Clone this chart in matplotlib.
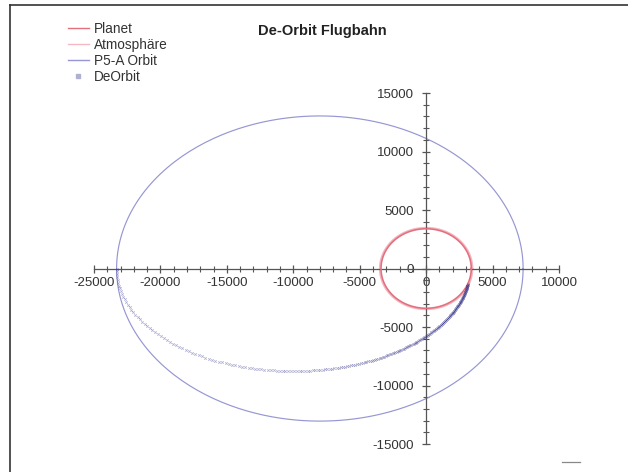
import numpy as np
import matplotlib
matplotlib.use("Agg")
import matplotlib.pyplot as plt
from matplotlib.lines import Line2D
from matplotlib.ticker import MultipleLocator

plt.rcParams['font.family'] = ['Liberation Sans', 'DejaVu Sans']

# Body and orbit sizes (km-ish units of the chart)
planet_radius = 3400
atmosphere_radius = 3500
p5a_periapsis = 7300
p5a_apoapsis = 23300
deorbit_periapsis = 3300
deorbit_apoapsis = 23300
# De-orbit burn starts at apoapsis (180 deg) and ends at atmosphere entry
deorbit_start_deg = 180
deorbit_end_deg = 336
deorbit_step_deg = 0.6

x_ticks = [-25000, -20000, -15000, -10000, -5000, 0, 5000, 10000]
y_ticks = [-15000, -10000, -5000, 0, 5000, 10000, 15000]


def orbit_xy(rp, ra, theta):
    """Keplerian orbit with focus at origin, periapsis on +x."""
    e = (ra - rp) / (ra + rp)
    p = rp * (1 + e)
    r = p / (1 + e * np.cos(theta))
    return r * np.cos(theta), r * np.sin(theta)


fig = plt.figure(figsize=(6.28, 4.72), dpi=100)
ax = fig.add_axes([0.1497, 0.0593, 0.7404, 0.7436])

t = np.linspace(0, 2 * np.pi, 400)
ax.plot(planet_radius * np.cos(t), planet_radius * np.sin(t), color='#e3707e', lw=1.2, zorder=3)
ax.plot(atmosphere_radius * np.cos(t), atmosphere_radius * np.sin(t), color='#f4b8c2', lw=1.1, zorder=2)

ox, oy = orbit_xy(p5a_periapsis, p5a_apoapsis, t)
ax.plot(ox, oy, color='#9696d4', lw=0.85, zorder=2)

th = np.deg2rad(np.arange(deorbit_start_deg, deorbit_end_deg + deorbit_step_deg, deorbit_step_deg))
dx, dy = orbit_xy(deorbit_periapsis, deorbit_apoapsis, th)
ax.plot(dx, dy, ls='none', marker='x', ms=1.8, mew=0.55, color='#34348a', alpha=0.38, zorder=4)

ax.set_xlim(-25000, 10000)
ax.set_ylim(-15000, 15000)
for side in ('top', 'right'):
    ax.spines[side].set_visible(False)
for side in ('left', 'bottom'):
    ax.spines[side].set_position(('data', 0))
    ax.spines[side].set_color('#555555')
    ax.spines[side].set_linewidth(0.9)

ax.set_xticks(x_ticks)
ax.set_yticks(y_ticks)
ax.set_xticklabels([str(v) for v in x_ticks])
ax.set_yticklabels([str(v) for v in y_ticks])
ax.xaxis.set_minor_locator(MultipleLocator(1000))
ax.yaxis.set_minor_locator(MultipleLocator(1000))
ax.tick_params(which='major', direction='inout', length=6, width=0.9, color='#555555',
               labelsize=9.5, labelcolor='#333333')
ax.tick_params(which='minor', direction='inout', length=4.5, width=0.8, color='#555555')
ax.tick_params(axis='x', which='major', pad=3)
ax.tick_params(axis='y', which='major', pad=6)

fig.text(0.513, 0.934, 'De-Orbit Flugbahn', ha='center', va='center',
         fontsize=10.5, fontweight='bold', color='#222222')

handles = [
    Line2D([], [], color='#e3707e', lw=1.0),
    Line2D([], [], color='#f4b8c2', lw=1.0),
    Line2D([], [], color='#9696d4', lw=1.0),
    Line2D([], [], ls='none', marker='s', ms=2.5, color='#b0b0d0'),
]
labels = ['Planet', 'Atmosphäre', 'P5-A Orbit', 'DeOrbit']
fig.legend(handles, labels, loc='upper left', bbox_to_anchor=(0.1, 0.965),
           frameon=False, fontsize=9.8, handlelength=1.5, handletextpad=0.4,
           labelspacing=0.15, borderaxespad=0, labelcolor='#333333')

# outer frame (left and top edges)
fig.add_artist(Line2D([10 / 628, 10 / 628], [0, 1 - 5 / 472], color='#333333', lw=1.2,
                      transform=fig.transFigure))
fig.add_artist(Line2D([10 / 628, 1], [1 - 5 / 472, 1 - 5 / 472], color='#333333', lw=1.2,
                      transform=fig.transFigure))
fig.add_artist(Line2D([562 / 628, 580 / 628], [1 - 462 / 472, 1 - 462 / 472], color='#888888',
                      lw=0.9, transform=fig.transFigure))

fig.savefig('out.png', dpi=100)
